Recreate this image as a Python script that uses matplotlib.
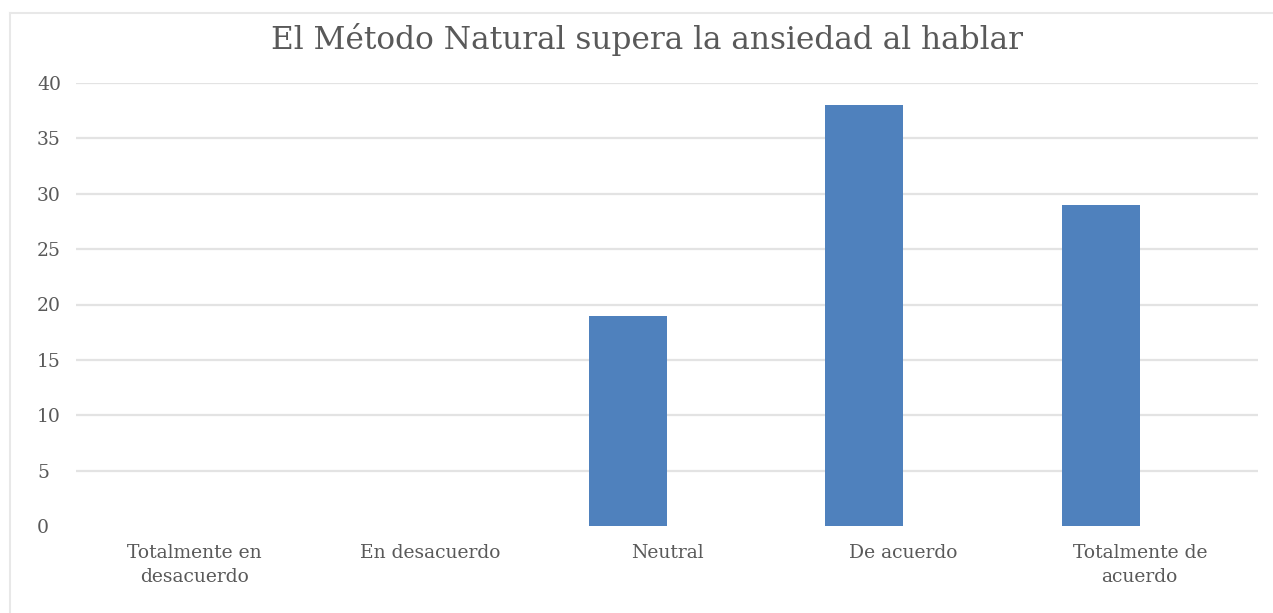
import matplotlib
matplotlib.use("Agg")
import matplotlib.pyplot as plt
import numpy as np
from matplotlib.lines import Line2D

categories = ["Totalmente en\ndesacuerdo", "En desacuerdo", "Neutral", "De acuerdo", "Totalmente de\nacuerdo"]
values = [0, 0, 19, 38, 29]
title = "El Método Natural supera la ansiedad al hablar"
yticks = [0, 5, 10, 15, 20, 25, 30, 35, 40]

W, H = 1273, 613
fig = plt.figure(figsize=(W / 100, H / 100), dpi=100)
ax = fig.add_axes([76 / W, 1 - 526 / H, (1258 - 76) / W, (526 - 83) / H])

x = np.arange(len(categories))
bw = 0.33
ax.bar(x - bw / 2, values, width=bw, color="#4f81bd", zorder=3)

ax.set_xlim(-0.5, len(categories) - 0.5)
ax.set_ylim(0, 40)
ax.set_yticks(yticks)
for t in yticks[1:]:
    ax.axhline(t, color="#e3e3e3", lw=1.6, zorder=1)
ax.set_xticks(x)
ax.set_xticklabels(categories, family="DejaVu Serif",
                   fontsize=13.5, color="#595959", linespacing=1.45)
ax.set_yticklabels([str(t) for t in yticks], family="DejaVu Serif",
                   fontsize=13.5, color="#595959", ha="left")
ax.tick_params(axis="both", length=0)
ax.tick_params(axis="x", pad=13)
ax.tick_params(axis="y", pad=28)
for s in ax.spines.values():
    s.set_visible(False)

fig.text(647 / W, 1 - 39 / H, title, ha="center", va="center", family="DejaVu Serif",
         fontsize=22.5, color="#595959")

fig.add_artist(Line2D([10 / W, 10 / W], [0, 1 - 13 / H], transform=fig.transFigure, color="#e8e8e8", lw=1.5))
fig.add_artist(Line2D([10 / W, 1], [1 - 13 / H, 1 - 13 / H], transform=fig.transFigure, color="#e8e8e8", lw=1.5))

fig.savefig("out.png", dpi=100)
